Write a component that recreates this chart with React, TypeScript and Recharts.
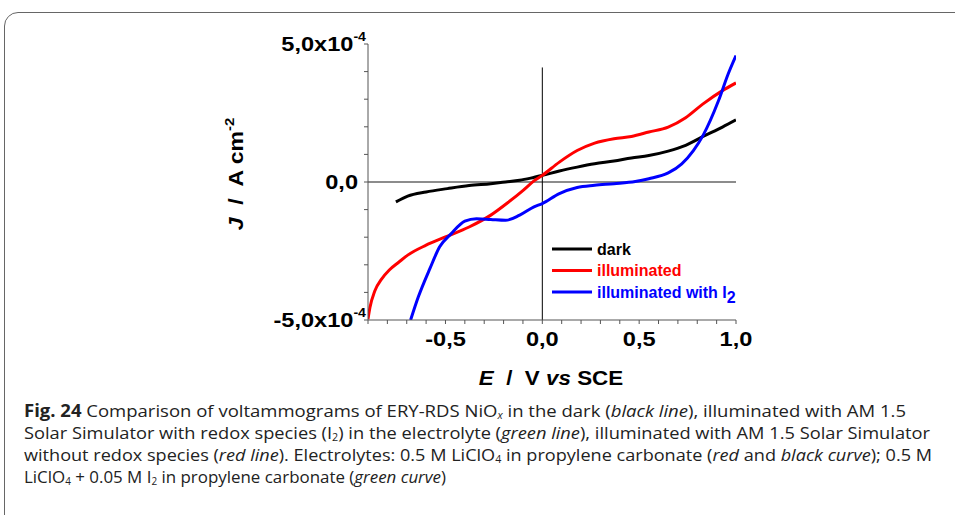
import React from 'react';
import { LineChart, Line, XAxis, YAxis, ReferenceLine } from 'recharts';

// potential E / V vs SCE and current density J in units of 1e-4 A cm^-2
const darkE = [-0.756, -0.695, -0.6, -0.49, -0.378, -0.266, -0.19, -0.117, -0.06, 0, 0.088, 0.18, 0.27, 0.37, 0.46, 0.55, 0.65, 0.74, 0.83, 0.93, 1.0];
const darkJ = [-0.72, -0.51, -0.36, -0.24, -0.13, -0.06, 0, 0.06, 0.14, 0.24, 0.4, 0.54, 0.66, 0.76, 0.87, 0.96, 1.12, 1.33, 1.65, 1.99, 2.25];

const illumE = [-0.9, -0.89, -0.865, -0.83, -0.79, -0.74, -0.695, -0.6, -0.5, -0.378, -0.266, -0.173, -0.099, -0.043, 0, 0.088, 0.18, 0.27, 0.37, 0.46, 0.55, 0.65, 0.74, 0.83, 0.93, 1.0];
const illumJ = [-4.97, -4.55, -3.95, -3.52, -3.19, -2.9, -2.65, -2.29, -1.99, -1.63, -1.2, -0.72, -0.3, 0.04, 0.24, 0.72, 1.14, 1.41, 1.57, 1.65, 1.81, 1.99, 2.33, 2.83, 3.31, 3.59];

const iodE = [-0.68, -0.64, -0.58, -0.53, -0.47, -0.4, -0.34, -0.266, -0.19, -0.117, -0.043, 0, 0.088, 0.18, 0.27, 0.37, 0.48, 0.55, 0.65, 0.72, 0.78, 0.83, 0.91, 0.96, 1.0];
const iodJ = [-5.0, -4.16, -3.13, -2.35, -1.87, -1.42, -1.33, -1.36, -1.39, -1.2, -0.9, -0.78, -0.42, -0.2, -0.12, -0.06, 0.02, 0.12, 0.33, 0.66, 1.14, 1.69, 2.95, 3.92, 4.58];

const xTicks = [-0.9, -0.8, -0.7, -0.6, -0.5, -0.4, -0.3, -0.2, -0.1, 0, 0.1, 0.2, 0.3, 0.4, 0.5, 0.6, 0.7, 0.8, 0.9, 1.0];
const xLabels = [-0.5, 0, 0.5, 1.0];
const yTicks = [-5, -4, -3, -2, -1, 0, 1, 2, 3, 4, 5];
const yLabels: Record<string, [string, string]> = { '5': ['5,0x10', '-4'], '0': ['0,0', ''], '-5': ['-5,0x10', '-4'] };

const zip = (e: number[], j: number[]) => e.map((v, i) => ({ e: v, j: j[i] }));

const series = [
  { name: 'dark', color: '#000000', data: zip(darkE, darkJ), sub: '' },
  { name: 'illuminated', color: '#ff0000', data: zip(illumE, illumJ), sub: '' },
  { name: 'illuminated with I', color: '#0000ff', data: zip(iodE, iodJ), sub: '2' }
];

const FONT = 'Arial, "Liberation Sans", Helvetica, sans-serif';
const AXIS = '#555';

const XTick = (props: any) => {
  const { x, payload } = props;
  const v = payload.value;
  if (!xLabels.some(l => Math.abs(l - v) < 1e-6)) return null;
  const txt = v.toFixed(1).replace('.', ',').replace('-0,0', '0,0');
  return (
    <g transform={`translate(${x},346) scale(1.18,1)`}>
      <text x={0} y={0} textAnchor="middle" fontFamily={FONT} fontWeight="bold" fontSize={20} fill="#000">{txt}</text>
    </g>
  );
};

const YTick = (props: any) => {
  const { y, payload } = props;
  const lab = yLabels[String(payload.value)];
  if (!lab) return null;
  const right = lab[1] ? 366 : 358;
  return (
    <g transform={`translate(${right},${y + 7}) scale(1.18,1)`}>
      <text x={0} y={0} textAnchor="end" fontFamily={FONT} fontWeight="bold" fontSize={20} fill="#000">
        {lab[0]}
        {lab[1] && <tspan dy={-10} fontSize={12}>{lab[1]}</tspan>}
      </text>
    </g>
  );
};

const Caption = () => {
  const f = '"Open Sans", "Noto Sans", sans-serif';
  return (
    <svg width={955} height={515} style={{ position: 'absolute', left: 0, top: 0 }}>
      <g fontFamily={f} fontSize={17} fill="#222">
        <text x={24} y={417} textLength={882} lengthAdjust="spacingAndGlyphs">
          <tspan fontWeight="bold">Fig. 24</tspan>
          {'  Comparison of voltammograms of ERY-RDS NiO'}
          <tspan dy={2} fontSize={10} fontStyle="italic">x</tspan>
          <tspan dy={-2}>{' in the dark ('}</tspan>
          <tspan fontStyle="italic">black line</tspan>
          {'), illuminated with AM 1.5'}
        </text>
        <text x={24} y={439} textLength={906} lengthAdjust="spacingAndGlyphs">
          {'Solar Simulator with redox species (I'}
          <tspan dy={2} fontSize={10}>2</tspan>
          <tspan dy={-2}>{') in the electrolyte ('}</tspan>
          <tspan fontStyle="italic">green line</tspan>
          {'), illuminated with AM 1.5 Solar Simulator'}
        </text>
        <text x={24} y={461} textLength={908} lengthAdjust="spacingAndGlyphs">
          {'without redox species ('}
          <tspan fontStyle="italic">red line</tspan>
          {'). Electrolytes: 0.5 M LiClO'}
          <tspan dy={2} fontSize={10}>4</tspan>
          <tspan dy={-2}>{' in propylene carbonate ('}</tspan>
          <tspan fontStyle="italic">red</tspan>
          {' and '}
          <tspan fontStyle="italic">black curve</tspan>
          {'); 0.5 M'}
        </text>
        <text x={24} y={483} textLength={422} lengthAdjust="spacingAndGlyphs">
          {'LiClO'}
          <tspan dy={2} fontSize={10}>4</tspan>
          <tspan dy={-2}>{' + 0.05 M I'}</tspan>
          <tspan dy={2} fontSize={10}>2</tspan>
          <tspan dy={-2}>{' in propylene carbonate ('}</tspan>
          <tspan fontStyle="italic">green curve</tspan>
          {')'}
        </text>
      </g>
    </svg>
  );
};

export default function App() {
  return (
    <div style={{ position: 'absolute', left: 0, top: 0, width: 955, height: 515, overflow: 'hidden', background: '#fff' }}>
      <div style={{ position: 'absolute', left: 4, top: 12, width: 990, height: 560, border: '1.5px solid #666', borderRadius: 14 }} />
      <div style={{ position: 'absolute', left: 0, top: 0 }}>
        <LineChart width={955} height={400} margin={{ top: 44, right: 219, bottom: 50, left: 308 }}>
          <XAxis
            type="number"
            dataKey="e"
            domain={[-0.9, 1.0]}
            ticks={xTicks}
            allowDataOverflow
            height={30}
            stroke={AXIS}
            tickSize={4}
            tick={<XTick />}
            interval={0}
          />
          <YAxis
            type="number"
            dataKey="j"
            domain={[-5, 5]}
            ticks={yTicks}
            allowDataOverflow
            width={60}
            stroke={AXIS}
            tickSize={4}
            tick={<YTick />}
            interval={0}
          />
          <ReferenceLine y={0} stroke="#666" strokeWidth={1.5} />
          <ReferenceLine segment={[{ x: 0, y: -5 }, { x: 0, y: 4.15 }]} stroke="#000" strokeWidth={1} />
          {series.map(s => (
            <Line
              key={s.name}
              data={s.data}
              dataKey="j"
              name={s.name}
              type="monotone"
              stroke={s.color}
              strokeWidth={3}
              dot={false}
              isAnimationActive={false}
            />
          ))}
        </LineChart>
        <svg width={955} height={400} style={{ position: 'absolute', left: 0, top: 0, pointerEvents: 'none' }}>
          {series.map((s, i) => (
            <g key={s.name} transform={`translate(548,${249 + i * 21.5})`}>
              <line x1={4} x2={44} y1={0} y2={0} stroke={s.color} strokeWidth={3} />
              <text x={49} y={5.5} fontFamily={FONT} fontWeight="bold" fontSize={16} fill={s.color}>
                {s.name}
                {s.sub && <tspan dy={5} fontSize={16}>{s.sub}</tspan>}
              </text>
            </g>
          ))}
          <g transform="translate(243,174) rotate(-90) scale(1.15,1)">
            <text x={0} y={0} textAnchor="middle" fontFamily={FONT} fontWeight="bold" fontSize={20} fill="#000" style={{ whiteSpace: 'pre' }}>
              <tspan fontStyle="italic">J</tspan>
              {'  /  A cm'}
              <tspan dy={-9} fontSize={13}>-2</tspan>
            </text>
          </g>
          <g transform="translate(551,385) scale(1.12,1)">
            <text x={0} y={0} textAnchor="middle" fontFamily={FONT} fontWeight="bold" fontSize={20} fill="#000" style={{ whiteSpace: 'pre' }}>
              <tspan fontStyle="italic">E</tspan>
              {'  /  V '}
              <tspan fontStyle="italic">vs</tspan>
              {' SCE'}
            </text>
          </g>
        </svg>
      </div>
      <Caption />
    </div>
  );
}
